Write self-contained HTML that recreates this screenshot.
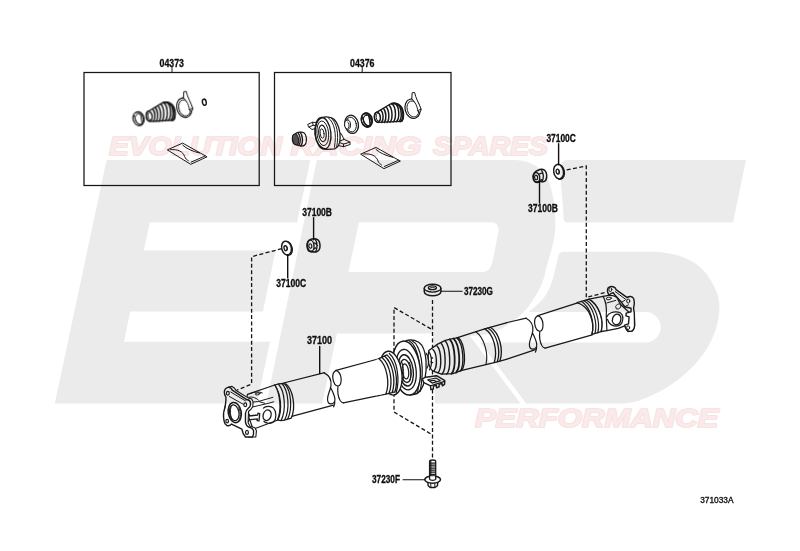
<!DOCTYPE html>
<html lang="en">
<head>
<meta charset="utf-8">
<title>Propeller Shaft 37100 - Evolution Racing Spares</title>
<style>
html,body{margin:0;padding:0;background:#fff;}
body{width:800px;height:551px;overflow:hidden;font-family:"Liberation Sans",sans-serif;}
svg{display:block;}
.wm{fill:#ebebeb;}
.pk{font-family:"Liberation Sans",sans-serif;font-weight:bold;font-style:italic;fill:#faeaea;stroke:#f4dcdc;stroke-width:1.7px;stroke-linejoin:round;}
.pk2{font-family:"Liberation Sans",sans-serif;font-weight:bold;font-style:italic;fill:#faeaea;stroke:#faeaea;stroke-width:0.5px;stroke-linejoin:round;}
.lb{font-family:"Liberation Sans",sans-serif;font-weight:bold;font-size:10.4px;fill:#0c0c0c;stroke:#0c0c0c;stroke-width:0.3px;}
.ln{fill:none;stroke:#1a1a1a;stroke-width:1px;stroke-linecap:round;stroke-linejoin:round;vector-effect:non-scaling-stroke;}
.lw{fill:#fff;stroke:#1a1a1a;stroke-width:1px;stroke-linecap:round;stroke-linejoin:round;vector-effect:non-scaling-stroke;}
.ld{fill:none;stroke:#151515;stroke-width:1.3;stroke-dasharray:4 2.4;}
.bx{fill:none;stroke:#161616;stroke-width:1.25;}
</style>
</head>
<body>
<svg width="800" height="551" viewBox="0 0 800 551">
<rect width="800" height="551" fill="#fff"/>

<!-- ===== watermark: ERS logo ===== -->
<g id="wm">
<!-- E -->
<path class="wm" d="M106.6 160 L310.3 160 L297 222.5 L149.8 222.5 L143.8 250.6 L275.6 250.6 L262.9 311.5 L130.2 311.5 L123.9 341.7 L270 341.7 L256.9 403.4 L54.8 403.4 Z"/>
<!-- S -->
<path class="wm" d="M566 160 L746 160 L733 222.5 L568 222.5 Q563.8 222.5 563.5 218 C563.3 206 561.5 190 560.2 176 Q559.6 166 562 163 Q563.6 160 566 160 Z"/>
<path class="wm" d="M564 251.8 L651 251.8 C680 252 699 262 708.5 277 C716 288 719.6 298 719.4 307 C719 322 715 336 706 350 C697 364 682 379 663.5 389.4 C648 397.5 636 403.4 620 403.4 L526.2 403.4 L480.1 342.4 L645.5 342.4 A15.2 15.2 0 0 0 645.5 312 L528.5 312 C536 306 542 301 546.2 294.4 C549.5 289 551.5 283.5 553.5 276.3 C555 270 557 262 558.5 255.5 Q559.3 251.8 564 251.8 Z"/>
<!-- R -->
<path class="wm" fill-rule="evenodd" d="M316.8 160 L515 160 C532 160.5 543.5 169 549 182 C553 193 555.3 208 555.4 222.6 C555.3 236 552.5 248 549 258 C547 265 545.5 271 544.4 276.3 C542 284 540 289 536.3 294.4 C533 300 530 304.5 527 308.5 C522 314 518 317.5 513.5 320.5 C509 324 504 327.5 500 329.5 C493 333 486 335 480 335.3 L470 336 L520.5 403.4 L435 403.4 L433 333.5 L337 333.5 L322.3 403.4 L266.4 403.4 Z M359 222.3 L490.8 222.3 Q499.5 222.3 498.4 231.6 L492.5 262 Q490.3 272 481.9 272 L348.4 272 Z"/>
</g>

<!-- pink outlined watermark text -->
<g id="wmtext">
<text class="pk" x="109.1" y="155.1" font-size="26.6" textLength="172.8" lengthAdjust="spacingAndGlyphs">EVOLUTION</text>
<text class="pk" x="290.6" y="155.1" font-size="26.6" textLength="130.8" lengthAdjust="spacingAndGlyphs">RACING</text>
<text class="pk" x="433.1" y="155.1" font-size="26.6" textLength="115" lengthAdjust="spacingAndGlyphs">SPARES</text>
<text class="pk" x="474.9" y="426.6" font-size="26.6" textLength="243.5" lengthAdjust="spacingAndGlyphs">PERFORMANCE</text>
<text class="pk2" x="109.1" y="155.1" font-size="26.6" textLength="172.8" lengthAdjust="spacingAndGlyphs">EVOLUTION</text>
<text class="pk2" x="290.6" y="155.1" font-size="26.6" textLength="130.8" lengthAdjust="spacingAndGlyphs">RACING</text>
<text class="pk2" x="433.1" y="155.1" font-size="26.6" textLength="115" lengthAdjust="spacingAndGlyphs">SPARES</text>
<text class="pk2" x="474.9" y="426.6" font-size="26.6" textLength="243.5" lengthAdjust="spacingAndGlyphs">PERFORMANCE</text>
</g>

<!-- ===== kit boxes ===== -->
<rect class="bx" x="84" y="72.5" width="175.2" height="113"/>
<rect class="bx" x="274.5" y="72.5" width="176.5" height="113"/>
<path class="ln" d="M172 66.8V72.5M362.2 66.8V72.5"/>

<!-- ===== labels ===== -->
<g id="labels" style="filter:grayscale(1)">
<text class="lb" x="159.5" y="66.5" textLength="24.5" lengthAdjust="spacingAndGlyphs">04373</text>
<text class="lb" x="350" y="66.5" textLength="24.5" lengthAdjust="spacingAndGlyphs">04376</text>
<text class="lb" x="546.4" y="142" textLength="29.5" lengthAdjust="spacingAndGlyphs">37100C</text>
<text class="lb" x="528" y="212.4" textLength="29.8" lengthAdjust="spacingAndGlyphs">37100B</text>
<text class="lb" x="302.2" y="215.6" textLength="29.8" lengthAdjust="spacingAndGlyphs">37100B</text>
<text class="lb" x="276.2" y="286.7" textLength="30" lengthAdjust="spacingAndGlyphs">37100C</text>
<text class="lb" x="306.9" y="344.2" textLength="25.1" lengthAdjust="spacingAndGlyphs">37100</text>
<text class="lb" x="463.9" y="294.5" textLength="29" lengthAdjust="spacingAndGlyphs">37230G</text>
<text class="lb" x="372" y="482.5" textLength="28" lengthAdjust="spacingAndGlyphs">37230F</text>
<text x="700.2" y="503.4" font-family="'Liberation Sans',sans-serif" font-size="8.2" fill="#111" stroke="#111" stroke-width="0.35" textLength="33.3" lengthAdjust="spacingAndGlyphs">371033A</text>
</g>

<!-- leaders -->
<path class="ln" style="stroke-width:1.4px;stroke:#111" d="M558.6 143.7V164.8M539.5 181.3V203M313.6 217.6V239.7M287.7 255V277.8M319.7 346.5V373.4"/>
<path class="ln" style="stroke-width:1.05px;stroke:#111" d="M441.2 291.3H462.2M403 479.7H425"/>


<g id="drawing" style="mix-blend-mode:multiply">
<!-- dashed reference lines -->
<g id="dashes">
<path class="ld" d="M566.7 169.9L586.3 166V297.5L609 291.5"/>
<path class="ld" d="M281.8 248.6L251.6 256.7V384L236.8 390.2"/>
<path class="ld" d="M432.5 300V458"/>
<path class="ld" d="M430.9 328.9L394 307.5V412L432 434.6"/>
</g>

<!-- kit 04373 contents -->
<g transform="translate(125,82) scale(0.1125)">
<!-- small clamp ring -->
<ellipse class="ln" cx="120" cy="326" rx="49" ry="63" transform="rotate(-14 120 326)" style="stroke-width:1.2px"/>
<ellipse class="ln" cx="126" cy="330" rx="36" ry="48" transform="rotate(-14 126 330)"/>
<path class="ln" d="M96 272 C120 262 150 275 160 300 M138 286 L152 372 M82 300 C90 340 110 372 135 380"/>
<!-- boot -->
<path class="lw" style="stroke-width:1.3px" d="M214 256 L330 186 C345 178 372 176 395 186 C428 200 446 250 444 300 C443 322 436 338 422 340 L225 350 C200 350 186 325 188 300 C190 275 200 260 214 256 Z"/>
<ellipse class="ln" cx="214" cy="303" rx="27" ry="46" transform="rotate(-8 214 303)" style="stroke-width:1.3px"/>
<ellipse class="ln" cx="222" cy="303" rx="19" ry="35" transform="rotate(-8 222 303)"/>
<path class="ln" style="stroke-width:1.5px" d="M245 240 C268 262 272 320 252 350 M268 226 C293 250 297 322 276 350 M292 212 C320 240 324 322 300 349 M318 197 C350 228 352 322 326 347 M345 184 C382 214 384 322 354 345 M372 180 C412 210 414 318 382 343 M395 188 C432 220 436 312 408 341"/>
<path class="ln" style="stroke-width:2px" d="M340 184 C395 172 436 205 442 262 M422 340 C438 332 445 312 444 270"/>
<!-- large clamp with tail -->
<ellipse class="ln" cx="527" cy="228" rx="66" ry="88" transform="rotate(-16 527 228)" style="stroke-width:1.2px"/>
<ellipse class="ln" cx="530" cy="230" rx="51" ry="73" transform="rotate(-16 530 230)"/>
<path class="lw" d="M520 140 L523 86 L545 83 C552 130 590 190 604 236 L592 260 L570 246 C575 215 548 165 520 140 Z"/>
<path class="ln" d="M574 244 L602 232"/>
<!-- snap ring -->
<ellipse class="ln" cx="705" cy="180" rx="17" ry="28" transform="rotate(-12 705 180)" style="stroke-width:1.5px"/>
</g>
<!-- grease packet kit1 -->
<g transform="translate(80,60) scale(0.25413)">
<path class="lw" d="M345 353 L404 327 L500 381 L437 410 Z"/>
<path class="ln" d="M356 353 C385 350 405 360 412 380 C414 388 420 392 426 396 M404 335 C420 350 445 360 470 366 M437 402 L492 378"/>
</g>

<!-- kit 04376: seal, centre bearing, cup, clamp -->
<g transform="translate(285,100) scale(0.1125)">
<!-- dust seal -->
<path class="lw" style="stroke-width:1.2px" d="M92 300 C110 285 150 280 168 292 C190 308 196 350 186 385 C178 405 160 412 140 408 L100 400 C75 392 62 365 66 335 C68 318 78 305 92 300 Z"/>
<ellipse cx="94" cy="350" rx="26" ry="49" transform="rotate(-10 94 350)" fill="#555" stroke="#1a1a1a" stroke-width="9"/>
<path class="ln" style="stroke-width:1.4px" d="M118 296 C140 320 142 380 122 404 M136 288 C160 315 162 385 140 408"/>
<!-- bracket ear (left) -->
<path class="lw" d="M205 215 L245 198 L290 200 L285 250 L240 262 L212 240 Z"/>
<path class="ln" d="M212 240 L250 225 L288 228 M250 225 L245 198"/>
<!-- bracket foot (right) -->
<path class="lw" d="M470 300 L500 300 L525 350 L575 372 L580 395 L520 415 L455 400 L440 370 Z"/>
<path class="ln" d="M525 350 L470 372 L455 400 M470 372 L520 392 L578 375 M520 392 L520 415"/>
<!-- bearing body -->
<path class="lw" style="stroke-width:1.3px" d="M330 156 C360 146 410 150 432 168 C470 200 494 280 490 340 C488 390 470 425 440 434 L380 438 C320 440 272 380 268 300 C264 225 290 168 330 156 Z"/>
<ellipse class="ln" cx="338" cy="296" rx="70" ry="141" transform="rotate(-6 338 296)" style="stroke-width:1.4px"/>
<ellipse class="ln" cx="336" cy="296" rx="52" ry="110" transform="rotate(-6 336 296)"/>
<ellipse class="ln" cx="333" cy="297" rx="33" ry="74" transform="rotate(-6 333 297)" style="stroke-width:1.2px"/>
<ellipse class="ln" cx="330" cy="298" rx="17" ry="42" transform="rotate(-6 330 298)"/>
<path class="ln" d="M385 158 C440 200 460 300 440 420 M408 158 C462 200 480 300 460 415"/>
<!-- cup / washer -->
<ellipse class="lw" cx="592" cy="216" rx="60" ry="82" transform="rotate(-12 592 216)" style="stroke-width:1.3px"/>
<ellipse class="ln" cx="588" cy="218" rx="46" ry="66" transform="rotate(-12 588 218)"/>
<path class="lw" d="M560 178 C540 175 528 195 530 222 C532 248 545 262 562 258 C580 254 585 235 582 212 C580 192 572 180 560 178 Z"/>
<path class="ln" d="M558 196 C570 200 574 230 566 246"/>
<!-- small clamp -->
<ellipse class="ln" cx="726" cy="180" rx="47" ry="64" transform="rotate(-14 726 180)" style="stroke-width:1.2px"/>
<ellipse class="ln" cx="731" cy="184" rx="34" ry="49" transform="rotate(-14 731 184)"/>
<path class="ln" d="M702 128 C726 118 756 130 766 155 M744 140 L758 226 M688 155 C696 195 716 227 741 235"/>
</g>
<!-- kit 04376: boot, clamps (same as kit 1, shifted) -->
<g transform="translate(353.3,83.1) scale(0.1125)">
<!-- small clamp ring -->
<ellipse class="ln" cx="120" cy="326" rx="49" ry="63" transform="rotate(-14 120 326)" style="stroke-width:1.2px"/>
<ellipse class="ln" cx="126" cy="330" rx="36" ry="48" transform="rotate(-14 126 330)"/>
<path class="ln" d="M96 272 C120 262 150 275 160 300 M138 286 L152 372 M82 300 C90 340 110 372 135 380"/>
<!-- boot -->
<path class="lw" style="stroke-width:1.3px" d="M214 256 L330 186 C345 178 372 176 395 186 C428 200 446 250 444 300 C443 322 436 338 422 340 L225 350 C200 350 186 325 188 300 C190 275 200 260 214 256 Z"/>
<ellipse class="ln" cx="214" cy="303" rx="27" ry="46" transform="rotate(-8 214 303)" style="stroke-width:1.3px"/>
<ellipse class="ln" cx="222" cy="303" rx="19" ry="35" transform="rotate(-8 222 303)"/>
<path class="ln" style="stroke-width:1.5px" d="M245 240 C268 262 272 320 252 350 M268 226 C293 250 297 322 276 350 M292 212 C320 240 324 322 300 349 M318 197 C350 228 352 322 326 347 M345 184 C382 214 384 322 354 345 M372 180 C412 210 414 318 382 343 M395 188 C432 220 436 312 408 341"/>
<path class="ln" style="stroke-width:2px" d="M340 184 C395 172 436 205 442 262 M422 340 C438 332 445 312 444 270"/>
<!-- large clamp with tail -->
<ellipse class="ln" cx="527" cy="228" rx="66" ry="88" transform="rotate(-16 527 228)" style="stroke-width:1.2px"/>
<ellipse class="ln" cx="530" cy="230" rx="51" ry="73" transform="rotate(-16 530 230)"/>
<path class="lw" d="M520 140 L523 86 L545 83 C552 130 590 190 604 236 L592 260 L570 246 C575 215 548 165 520 140 Z"/>
<path class="ln" d="M574 244 L602 232"/>
</g>
<!-- grease packet kit2 -->
<g transform="translate(273.3,64.3) scale(0.25413)">
<path class="lw" d="M345 353 L404 327 L500 381 L437 410 Z"/>
<path class="ln" d="M356 353 C385 350 405 360 412 380 C414 388 420 392 426 396 M404 335 C420 350 445 360 470 366 M437 402 L492 378"/>
</g>

<!-- right washer 37100C + nut 37100B -->
<g transform="translate(525,155) scale(0.0875)">
<ellipse class="lw" cx="394" cy="194" rx="56" ry="84" transform="rotate(-10 394 194)" style="stroke-width:1.3px"/>
<ellipse class="lw" cx="384" cy="190" rx="56" ry="84" transform="rotate(-10 384 190)" style="stroke-width:1.5px"/>
<ellipse class="ln" cx="374" cy="190" rx="18" ry="29" transform="rotate(-10 374 190)" style="stroke-width:1.4px"/>
<path class="ln" d="M382 172 C394 180 394 204 384 213"/>
<!-- nut -->
<path class="lw" style="stroke-width:1.5px" d="M150 175 C170 158 205 158 225 175 C250 200 255 255 240 285 C230 305 205 310 185 300 L150 312 C115 318 92 290 92 252 C92 215 115 190 150 175 Z"/>
<ellipse class="ln" cx="132" cy="255" rx="36" ry="54" transform="rotate(-8 132 255)" style="stroke-width:1.4px"/>
<ellipse class="ln" cx="127" cy="257" rx="17" ry="26" transform="rotate(-8 127 257)" style="stroke-width:1.2px"/>
<path class="ln" style="stroke-width:1.3px" d="M186 170 C214 200 218 270 194 304 M168 215 L190 208 M170 290 L192 282"/>
</g>
<!-- left washer 37100C + nut 37100B -->
<g transform="translate(265,225) scale(0.0875)">
<ellipse class="lw" cx="256" cy="268" rx="55" ry="80" transform="rotate(-14 256 268)" style="stroke-width:1.3px"/>
<ellipse class="lw" cx="246" cy="264" rx="55" ry="80" transform="rotate(-14 246 264)" style="stroke-width:1.5px"/>
<ellipse class="ln" cx="236" cy="265" rx="18" ry="29" transform="rotate(-14 236 265)" style="stroke-width:1.4px"/>
<path class="ln" d="M244 246 C256 254 256 279 246 288"/>
<!-- nut -->
<path class="lw" style="stroke-width:1.5px" d="M520 165 C545 152 590 155 610 175 C632 200 635 255 618 285 C605 305 575 312 555 305 L530 308 C500 305 480 275 480 235 C480 200 495 175 520 165 Z"/>
<ellipse class="ln" cx="522" cy="237" rx="38" ry="64" transform="rotate(-6 522 237)" style="stroke-width:1.4px"/>
<ellipse class="ln" cx="518" cy="240" rx="17" ry="26" transform="rotate(-6 518 240)" style="stroke-width:1.2px"/>
<path class="ln" style="stroke-width:1.3px" d="M572 162 C600 195 602 270 578 306 M560 205 L580 212 L600 236 M560 272 L580 262"/>
</g>

<!-- bushing 37230G -->
<g transform="translate(410,275) scale(0.0875)">
<path class="lw" style="stroke-width:1.5px" d="M163 150 C163 125 205 105 258 105 C311 105 353 125 353 150 L353 192 C353 217 311 237 258 237 C205 237 163 217 163 192 Z"/>
<path class="ln" style="stroke-width:1.3px" d="M163 150 C163 175 205 195 258 195 C311 195 353 175 353 150"/>
<ellipse class="ln" cx="256" cy="146" rx="46" ry="22" style="stroke-width:1.3px"/>
<path class="ln" d="M222 152 C235 140 280 140 292 152"/>
</g>
<!-- bolt 37230F -->
<g transform="translate(400,450) scale(0.0875)">
<path class="lw" style="stroke-width:1.3px" d="M338 330 L338 130 C338 118 350 114 373 114 C396 114 408 118 408 130 L408 330 Z"/>
<path class="ln" style="stroke-width:1.15px" d="M340 150H406M340 172H406M340 194H406M340 216H406M340 238H406M340 260H406M340 282H406M352 130V300"/>
<path class="lw" style="stroke-width:1.4px" d="M318 368 L322 408 L345 428 L400 428 L428 408 L432 368 Z"/>
<path class="ln" d="M352 380 L352 428 M398 380 L398 428"/>
<ellipse class="lw" cx="373" cy="338" rx="90" ry="42" style="stroke-width:1.5px"/>
<path class="lw" d="M338 300 L338 335 C345 350 400 350 408 335 L408 300" style="stroke-width:1.3px"/>
</g>

<!-- left flange yoke + first tube -->
<g transform="translate(215,370) scale(0.12712)">
<!-- tube from yoke to break -->
<path class="ln" style="stroke-width:1.2px" d="M470 120 L862 21 M560 377 L932 276"/>
<!-- weld rings -->
<path class="lw" style="stroke-width:1.3px" d="M470 118 C500 108 540 105 560 112 C610 150 640 290 600 378 L545 394 C520 400 505 398 495 392 C530 320 520 190 470 118 Z"/>
<path class="ln" style="stroke-width:1.2px" d="M500 112 C552 170 560 320 520 396 M528 108 C580 165 590 315 548 392 M548 108 C598 160 612 300 572 386 M470 118 C515 190 525 320 490 395"/>
<!-- yoke body -->
<path class="lw" style="stroke-width:1.2px" d="M255 192 L470 118 C515 190 525 320 490 395 L300 466 L240 300 Z"/>
<path class="ln" d="M275 186 C300 172 350 168 372 180 M262 215 C300 205 330 225 350 245 L455 215 M300 290 L420 262 L462 250 M300 252 L345 248 L392 262"/>
<ellipse class="ln" cx="335" cy="188" rx="19" ry="8" transform="rotate(-8 335 188)"/>
<path class="ln" style="stroke-width:1.2px" d="M380 300 C395 285 440 280 460 300 C485 325 485 385 460 410 C440 425 400 420 385 405"/>
<ellipse class="ln" cx="410" cy="356" rx="31" ry="43" transform="rotate(18 410 356)" style="stroke-width:1.3px"/>
<path class="ln" style="stroke-width:1.3px" d="M256 345 L250 404 M256 345 L270 347 L267 362 L336 354 L338 340 L352 343 L346 400 L331 398 L333 384 L265 392 L263 406 L250 404"/>
</g>
<g transform="translate(218,380) scale(0.1017)">
<!-- flange plate back edge (thickness) -->
<path class="lw" style="stroke-width:1.1px" d="M100 72 L135 62 L160 78 L175 100 L300 178 L330 185 L345 215 L342 262 L322 290 L300 310 L296 420 L315 455 L362 470 L378 500 L372 560 L300 560 Z"/>
<!-- flange plate front face -->
<path class="lw" style="stroke-width:1.4px" d="M62 120 C62 100 78 78 100 72 C118 70 132 84 140 100 L285 195 C300 192 315 205 320 225 C322 245 314 265 300 275 C282 290 272 305 270 330 L270 415 C274 440 284 455 300 462 C325 468 345 480 350 500 C352 520 348 545 340 560 L270 560 C255 545 240 515 235 483 L133 433 C120 447 100 452 89 448 C72 438 62 425 61 408 C55 380 52 350 55 327 C58 300 68 275 72 250 C76 225 80 200 78 170 C70 155 62 140 62 120 Z"/>
<ellipse class="ln" cx="97" cy="130" rx="14" ry="18" style="stroke-width:1.2px"/>
<ellipse class="ln" cx="268" cy="243" rx="14" ry="18" style="stroke-width:1.2px"/>
<ellipse class="ln" cx="90" cy="405" rx="13" ry="17" style="stroke-width:1.2px"/>
<ellipse class="ln" cx="285" cy="515" rx="14" ry="19" style="stroke-width:1.2px"/>
<path class="ln" d="M112 162 L250 240 M125 118 L270 205 M72 250 L62 300"/>
<ellipse class="ln" cx="165" cy="320" rx="64" ry="100" transform="rotate(-10 165 320)" style="stroke-width:1.5px"/>
<ellipse class="ln" cx="160" cy="322" rx="46" ry="78" transform="rotate(-10 160 322)" style="stroke-width:1.3px"/>
<path class="ln" d="M128 262 C116 300 120 360 140 395 M205 272 C225 310 225 370 205 400"/>
</g>

<!-- pipe break + second tube -->
<g transform="translate(310,350) scale(0.12712)">
<path class="ln" style="stroke-width:1.2px" d="M112 180 C150 200 170 240 165 280 C160 320 138 350 138 385 C138 410 150 424 166 424 C184 424 197 410 196 388 C195 360 178 330 165 300 M195 396 C197 420 193 436 186 447"/>
<path class="ln" style="stroke-width:1.2px" d="M205 160 C185 170 176 195 180 225 C185 255 200 282 220 283 C240 282 247 255 245 225 C242 195 228 168 205 160 Z M220 283 C216 320 222 370 236 395 C244 408 252 414 262 416"/>
<path class="ln" style="stroke-width:1.2px" d="M205 160 L542 68.5 M262 416 L596 347"/>
</g>
<!-- centre bearing -->
<g transform="translate(368,330) scale(0.12698)">
<!-- main housing: rim then face -->
<path class="lw" style="stroke-width:1.3px" d="M300 84 C340 70 395 80 425 122 C462 182 466 300 448 390 C434 450 405 500 368 506 L330 512 Z"/>
<path class="ln" style="stroke-width:1.2px" d="M345 82 C420 122 448 300 410 485 M322 82 C398 125 426 300 390 495"/>
<ellipse class="lw" cx="303" cy="300" rx="107" ry="214" transform="rotate(-8 303 300)" style="stroke-width:1.5px"/>
<ellipse class="ln" cx="300" cy="312" rx="78" ry="160" transform="rotate(-8 300 312)" style="stroke-width:1.3px"/>
<ellipse class="ln" cx="298" cy="318" rx="58" ry="124" transform="rotate(-8 298 318)" style="stroke-width:1.4px"/>
<ellipse class="ln" cx="296" cy="322" rx="41" ry="92" transform="rotate(-8 296 322)" style="stroke-width:1.3px"/>
<ellipse class="ln" cx="295" cy="326" rx="25" ry="60" transform="rotate(-8 295 326)" style="stroke-width:1.2px"/>
<path class="ln" d="M262 245 C282 268 288 385 272 412 M326 255 C344 295 344 372 328 402"/>
<!-- dust shield (in front of housing) -->
<ellipse class="lw" cx="180" cy="340" rx="86" ry="174" transform="rotate(-8 180 340)" style="stroke-width:1.4px"/>
<path class="ln" style="stroke-width:1.2px" d="M168 185 C232 240 252 390 222 492"/>
<!-- tube 2 right end with weld rings -->
<path class="lw" style="stroke:none" d="M60 236 L85 228 L150 199 C215 255 242 395 209 485 L140 500 L60 516 Z"/>
<path class="ln" style="stroke-width:1.3px" d="M85 225 C150 280 175 420 140 505 M108 214 C175 270 200 410 165 500 M130 205 C196 262 222 402 190 494 M150 196 C215 255 242 395 212 488 M85 225 L150 196 M140 505 L212 488"/>
<!-- bracket -->
<path class="lw" style="stroke-width:1.4px" d="M428 385 L455 372 L540 360 L605 398 L603 428 L585 440 L583 420 L560 428 L560 448 L540 455 L538 435 L515 442 L515 465 L495 470 L492 440 L440 415 Z"/>
<path class="ln" style="stroke-width:1.2px" d="M470 392 L535 378 L570 400 L505 418 Z M492 440 L603 405 M488 400 L520 396 L540 408"/>
</g>

<!-- boot + CV joint + tube 3 -->
<g transform="translate(425,320) scale(0.12698)">
<path class="lw" style="stroke:none" d="M30 240 L100 190 L160 160 L200 150 L250 140 L470 70 L640 22 L640 310 L545 335 L290 396 L220 422 L130 427 L60 400 C30 380 15 300 30 240 Z" />
<path class="ln" style="stroke-width:1.3px" d="M640 22 L470 70 L250 140 L200 150 L160 160 L100 190 L30 240 C15 300 30 380 60 400 L130 427 L220 422 L290 396 L545 335 L640 310"/>
<path class="ln" style="stroke-width:1.4px" d="M62 232 C95 260 100 370 70 400 M95 205 C130 240 135 385 102 415 M128 185 C165 225 170 390 135 425 M160 165 C200 210 208 390 170 428"/>
<path class="ln" style="stroke-width:1.8px" d="M195 152 C240 200 248 385 208 424 M225 146 C275 195 285 370 245 415"/>
<path class="ln" style="stroke-width:1.3px" d="M250 140 C305 190 312 360 275 405 M262 137 C318 188 325 355 288 398"/>
<path class="ln" style="stroke-width:1.1px" d="M400 92 C470 140 500 270 480 350"/>
<path class="ln" style="stroke-width:1.3px" d="M470 70 C540 110 575 240 545 335 M495 63 C565 105 600 235 570 328 M515 57 C585 100 620 230 590 323"/>
<!-- small-end detail behind bracket -->
<path class="ln" style="stroke-width:1.2px" d="M30 250 C55 280 58 360 35 392 M10 262 C32 290 35 350 15 380 M45 290 L60 300 M45 330 L60 336"/>
</g>
<!-- pipe break 2 + tube 4 start -->
<g transform="translate(490,290) scale(0.12698)">
<g transform="translate(172,42)">
<path class="ln" style="stroke-width:1.2px" d="M112 180 C150 200 170 240 165 280 C160 320 138 350 138 385 C138 410 150 424 166 424 C184 424 197 410 196 388 C195 360 178 330 165 300 M195 396 C197 420 193 436 186 447"/>
<path class="ln" style="stroke-width:1.2px" d="M205 160 C185 170 176 195 180 225 C185 255 200 282 220 283 C240 282 247 255 245 225 C242 195 228 168 205 160 Z M220 283 C216 320 222 370 236 395 C244 408 252 414 262 416"/>
</g>
<path class="ln" style="stroke-width:1.2px" d="M128 258 L285 222 M128 546 L358 470 M377 202 L690 101 M434 458 L805 353"/>
</g>

<!-- right yoke + flange -->
<g transform="translate(565,275) scale(0.12698)">
<!-- weld rings -->
<path class="lw" style="stroke-width:1.3px" d="M95 218 L190 190 C270 235 310 360 285 445 L212 468 C235 380 200 250 95 218 Z"/>
<path class="ln" style="stroke-width:1.2px" d="M130 208 C200 250 235 380 212 468 M150 202 C222 245 258 375 236 462 M168 197 C242 240 280 370 258 455"/>
<!-- yoke body -->
<path class="lw" style="stroke-width:1.3px" d="M190 190 L300 168 L345 160 C385 158 415 175 420 200 L440 235 L500 290 L545 300 L548 400 L530 440 L495 445 L470 400 L420 420 L330 438 L285 445 C310 360 270 235 190 190 Z"/>
<path class="ln" style="stroke-width:1.2px" d="M330 330 C340 300 380 285 420 292 C445 298 458 320 455 350 C452 385 430 405 400 402 C370 400 345 380 335 350 M300 168 C320 200 330 260 325 330 L330 438"/>
<ellipse class="ln" cx="407" cy="350" rx="33" ry="42" transform="rotate(15 407 350)" style="stroke-width:1.4px"/>
<ellipse class="ln" cx="345" cy="185" rx="20" ry="10" transform="rotate(-10 345 185)"/>
<path class="ln" d="M330 220 L400 200 M400 245 C410 225 435 222 440 240 C442 258 425 272 408 268 Z"/>
<!-- flange -->
<path class="lw" style="stroke-width:1.4px" d="M335 130 C330 105 345 90 365 90 C385 90 398 100 402 115 L490 178 C505 165 530 165 540 185 C548 205 545 240 540 262 L546 300 L548 395 C548 420 535 440 515 444 C498 446 485 436 478 420 L470 395 L500 385 L505 330 L480 322 L482 300 L520 290 L520 262 L470 250 L445 215 L395 160 L380 140 L362 145 L345 160 Z"/>
<ellipse class="ln" cx="357" cy="115" rx="12" ry="15"/>
<ellipse class="ln" cx="498" cy="205" rx="12" ry="16"/>
<ellipse class="ln" cx="497" cy="415" rx="12" ry="15"/>
<path class="ln" d="M395 130 L482 195 M470 250 L500 235 M445 215 L470 200"/>
</g>


</g>

</svg>
</body>
</html>
